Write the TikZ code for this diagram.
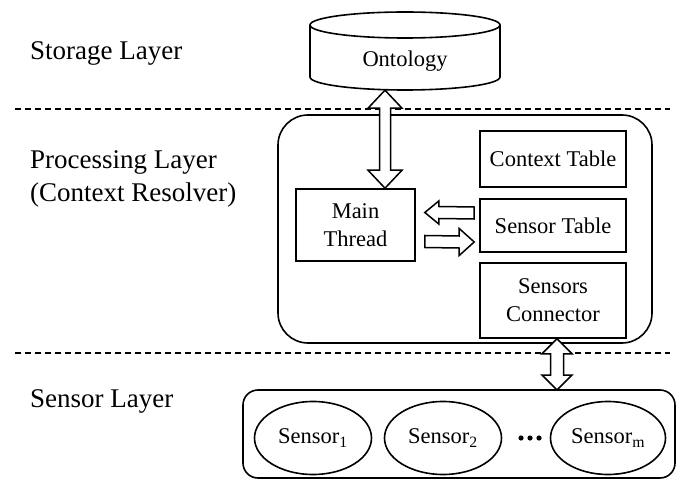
\documentclass[tikz,border=0pt]{standalone}
\usepackage{fontspec}
\setmainfont{Liberation Serif}
\usetikzlibrary{calc,shapes.geometric}
\tikzset{
  box/.style={draw, line width=1.6pt, rectangle, align=center, inner sep=0pt},
  lbl/.style={anchor=base west, font=\fontsize{27}{33}\selectfont, inner sep=0pt},
  txt/.style={font=\fontsize{22.5}{28}\selectfont},
  layerline/.style={dashed, line width=1.2pt, dash pattern=on 6pt off 4pt},
  arr/.style={draw, line width=1.5pt, fill=white, line join=miter},
  sens/.style={draw, ellipse, line width=1.6pt, minimum height=73pt, inner sep=0pt, txt},
}
% vertical double block arrow between two coordinates (#1 above #2)
\newcommand\vdblarr[5]{% #1 top, #2 bottom, #3 shaft half, #4 head half, #5 head length
  \draw[arr] (#1) -- ($(#1)+(#4,#5)$) -- ($(#1)+(#3,#5)$) -- ($(#2)+(#3,-#5)$) -- ($(#2)+(#4,-#5)$)
    -- (#2) -- ($(#2)+(-#4,-#5)$) -- ($(#2)+(-#3,-#5)$) -- ($(#1)+(-#3,#5)$) -- ($(#1)+(-#4,#5)$) -- cycle;}
% horizontal single block arrow from #1 (tail) to #2 (tip), pointing right if #6=1, left if #6=-1
\newcommand\hblkarr[6]{%
  \draw[arr] (#1) -- ($(#1)+(0,-#3)$) -- ($(#2)+(-#6*#5,-#3)$) -- ($(#2)+(-#6*#5,-#4)$) -- (#2)
    -- ($(#2)+(-#6*#5,#4)$) -- ($(#2)+(-#6*#5,#3)$) -- ($(#1)+(0,#3)$) -- cycle;}
\begin{document}
\begin{tikzpicture}[x=1pt,y=-1pt]
\useasboundingbox (0,0) rectangle (680,481);
\fill[white] (0,0) rectangle (680,481);

% layer labels
\node[lbl] (storage) at (30,60) {Storage Layer};
\node[lbl] (proc1) at (30,169) {Processing Layer};
\node[lbl] (proc2) at (30,202) {(Context Resolver)};
\node[lbl] (sensl) at (30,407) {Sensor Layer};

% dashed separators
\coordinate (d1a) at (15,109); \coordinate (d1b) at (670,109);
\coordinate (d2a) at (15,353); \coordinate (d2b) at (670,353);
\draw[layerline] (d1a) -- (d1b);
\draw[layerline] (d2a) -- (d2b);

% ontology cylinder
\node[inner sep=0pt, minimum width=190pt, minimum height=78pt] (onto) at (405,51) {};
\draw[line width=1.6pt, fill=white] (310,25) -- (310,77) arc[start angle=180, end angle=0, x radius=95, y radius=13] -- (500,25);
\draw[line width=1.6pt] (405,25) ellipse[x radius=95, y radius=13];
\node[txt] at (405,61) {Ontology};

% processing box
\draw[line width=1.6pt, rounded corners=30pt] (278,115) rectangle (652,343);
\node[box, txt, minimum width=146pt, minimum height=56pt] (ctx) at (553,159) {Context Table};
\node[box, txt, minimum width=146pt, minimum height=53pt] (stab) at (553,225.5) {Sensor Table};
\node[box, txt, minimum width=146pt, minimum height=75pt] (sconn) at (553,300.5) {Sensors\\Connector};
\node[box, txt, minimum width=119pt, minimum height=72pt] (main) at (355.5,225) {Main\\Thread};

% sensor layer
\draw[line width=1.6pt, rounded corners=15pt] (243,390) rectangle (675,478);
\node[sens, minimum width=117pt] (s1) at (313,438) {Sensor\textsubscript{1}};
\node[sens, minimum width=117pt] (s2) at (443,438) {Sensor\textsubscript{2}};
\node[sens, minimum width=115pt] (sm) at (608,438) {Sensor\textsubscript{m}};
\node[inner sep=0pt, minimum width=24pt, minimum height=6pt] (dots) at (530,438) {};
\foreach \dx in {-9,0,9} \fill ($(dots.center)+(\dx,0)$) circle[radius=2.6pt];
\coordinate (slayer) at (557,390);

% arrows
\coordinate (a1t) at ($(onto.south)+(-20,0)$);
\coordinate (a1b) at ($(main.north)+(29.5,0)$);
\vdblarr{a1t}{a1b}{5.5}{17}{18}
\coordinate (a2t) at ($(sconn.south)+(4,0)$);
\vdblarr{a2t}{slayer}{6.5}{15}{15}
\coordinate (lt) at ($(stab.west)+(-5,-12.5)$);
\coordinate (lh) at ($(main.east)+(9,-12.5)$);
\hblkarr{lt}{lh}{6}{11.5}{14}{-1}
\coordinate (rt) at ($(main.east)+(9,16.5)$);
\coordinate (rh) at ($(stab.west)+(-5,16.5)$);
\hblkarr{rt}{rh}{6}{13.5}{15}{1}
\end{tikzpicture}
\end{document}
